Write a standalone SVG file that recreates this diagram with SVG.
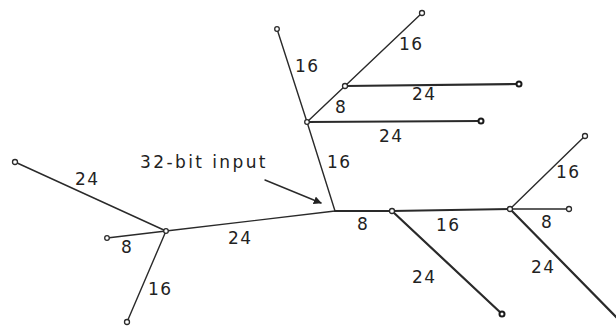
<svg xmlns="http://www.w3.org/2000/svg" width="616" height="327" viewBox="0 0 616 327">
<style>
.e{stroke:#2a2a2a;stroke-width:1.4;fill:none;stroke-linecap:round}
.t{stroke-width:2.2}
.n{fill:#fff;stroke:#2a2a2a;stroke-width:1.3}
.nb{fill:#fff;stroke:#1a1a1a;stroke-width:2}
text{font-family:"DejaVu Sans","Liberation Sans",sans-serif;font-size:17px;fill:#222;letter-spacing:1.5px}
</style>
<defs>
<marker id="ah" viewBox="0 0 10 10" refX="9" refY="5" markerWidth="8" markerHeight="8" orient="auto" markerUnits="userSpaceOnUse">
<path d="M0,0 L10,5 L0,10 z" fill="#222"/>
</marker>
</defs>
<rect width="616" height="327" fill="#fff"/>
<g id="connectors">
<line class="e" x1="335" y1="211" x2="307" y2="122"/>
<line class="e" x1="307" y1="122" x2="277" y2="29"/>
<line class="e" x1="307" y1="122" x2="345" y2="86"/>
<line class="e" x1="345" y1="86" x2="422" y2="13"/>
<line class="e t" x1="345" y1="86" x2="518" y2="84"/>
<line class="e t" x1="307" y1="122" x2="480" y2="121"/>
<line class="e t" x1="335" y1="211" x2="392" y2="211"/>
<line class="e t" x1="392" y1="211" x2="510" y2="209"/>
<line class="e t" x1="392" y1="211" x2="502" y2="314"/>
<line class="e" x1="510" y1="209" x2="585" y2="136"/>
<line class="e" x1="510" y1="209" x2="569" y2="209"/>
<line class="e t" x1="510" y1="209" x2="626" y2="327"/>
<line class="e" x1="335" y1="211" x2="166" y2="231"/>
<line class="e" x1="166" y1="231" x2="15" y2="162"/>
<line class="e" x1="166" y1="231" x2="107" y2="238"/>
<line class="e" x1="166" y1="231" x2="127" y2="322"/>
<line class="e" x1="265" y1="180" x2="321" y2="203" marker-end="url(#ah)"/>
</g>
<g id="node-root"><text x="140" y="168" textLength="127" lengthAdjust="spacing">32-bit input</text></g>
<g id="node-A"><circle class="n" cx="307" cy="122" r="2.3"/></g>
<g id="node-B"><circle class="n" cx="345" cy="86" r="2.5"/></g>
<g id="node-C"><circle class="n" cx="392" cy="211" r="2.5"/></g>
<g id="node-D"><circle class="n" cx="510" cy="209" r="2.5"/></g>
<g id="node-E"><circle class="n" cx="166" cy="231" r="2.3"/></g>
<g id="leaf-1"><circle class="n" cx="277" cy="29" r="2.3"/></g>
<g id="leaf-2"><circle class="n" cx="422" cy="13" r="2.5"/></g>
<g id="leaf-3"><circle class="nb" cx="519" cy="84" r="2.5"/></g>
<g id="leaf-4"><circle class="nb" cx="481" cy="121" r="2.5"/></g>
<g id="leaf-5"><circle class="nb" cx="502" cy="314" r="2.5"/></g>
<g id="leaf-6"><circle class="n" cx="585" cy="136" r="2.5"/></g>
<g id="leaf-7"><circle class="n" cx="569" cy="209" r="2.5"/></g>
<g id="leaf-8"><circle class="n" cx="15" cy="162" r="2.5"/></g>
<g id="leaf-9"><circle class="n" cx="107" cy="238" r="2.3"/></g>
<g id="leaf-10"><circle class="n" cx="127" cy="322" r="2.5"/></g>
<g id="labels">
<text x="75" y="185">24</text>
<text x="121" y="253">8</text>
<text x="148" y="295">16</text>
<text x="228" y="244">24</text>
<text x="295" y="72">16</text>
<text x="399" y="50">16</text>
<text x="335" y="113">8</text>
<text x="412" y="100">24</text>
<text x="379" y="142">24</text>
<text x="327" y="168">16</text>
<text x="357" y="230">8</text>
<text x="436" y="231">16</text>
<text x="412" y="283">24</text>
<text x="556" y="178">16</text>
<text x="541" y="228">8</text>
<text x="531" y="273">24</text>
</g>
</svg>
